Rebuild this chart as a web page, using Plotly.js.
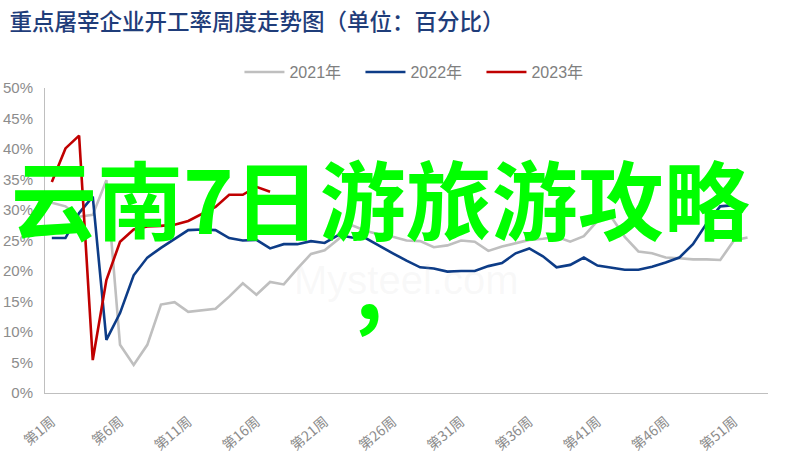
<!DOCTYPE html>
<html>
<head>
<meta charset="utf-8">
<script src="https://cdn.plot.ly/plotly-3.0.1.min.js"></script>
<style>
html,body{margin:0;padding:0;background:#fff;}
#chart{width:793px;height:461px;}
</style>
</head>
<body>
<div id="chart"></div>
<script>
// Week categories
const weeks = [];
for (let i = 1; i <= 53; i++) weeks.push('第' + i + '周');
const tickWeeks = ['第1周','第6周','第11周','第16周','第21周','第26周','第31周','第36周','第41周','第46周','第51周'];

const seriesNames = ['2021年', '2022年', '2023年'];

const values2021 = [31.2,30.6,28.9,29.2,34.9,7.9,4.6,7.9,14.5,14.9,
  13.3,13.6,13.8,15.8,18.0,16.1,18.2,17.8,20.4,22.8,
  23.4,25.2,27.5,26.6,26.0,25.6,25.0,24.9,23.9,24.2,
  25.0,24.8,23.3,24.0,24.5,25.1,25.3,25.6,24.8,25.7,
  28.2,28.9,25.6,23.2,22.9,22.2,22.1,21.9,21.9,21.8,
  25.0,25.5];

const values2022 = [25.4,25.4,29.5,32.2,8.7,13.1,19.3,22.2,23.8,25.3,
  26.7,26.8,26.7,25.4,25.0,25.1,23.7,24.4,24.4,24.9,
  24.6,25.9,25.5,25.4,24.1,22.9,21.7,20.6,20.4,19.9,
  20.0,20.0,20.8,21.3,22.9,23.7,22.4,20.6,21.0,22.2,
  20.9,20.5,20.2,20.2,20.7,21.4,22.2,24.4,27.8,30.6,
  30.8,30.8];

const values2023 = [34.6,40.1,42.2,5.4,18.5,24.8,26.8,27.3,27.4,27.6,
  28.2,29.3,30.5,32.5,32.5,33.8,33.0];

const yTicks = [0,5,10,15,20,25,30,35,40,45,50];
const yTickText = yTicks.map(v => v + '%');

const colors = ['#bfbfbf', '#0d3c87', '#c00000'];
const allValues = [values2021, values2022, values2023];

const traces = allValues.map((vals, i) => ({
  type: 'scatter',
  mode: 'lines',
  name: seriesNames[i],
  x: weeks.slice(0, vals.length),
  y: vals,
  line: {color: colors[i], width: 2.6},
  hoverinfo: 'skip'
}));

const layout = {
  width: 793,
  height: 461,
  paper_bgcolor: '#ffffff',
  plot_bgcolor: '#ffffff',
  margin: {l: 45, r: 25, t: 88, b: 68},
  title: {
    text: '重点屠宰企业开工率周度走势图（单位：百分比）',
    x: 0.012, xanchor: 'left', xref: 'container',
    y: 0.952, yanchor: 'middle', yref: 'container',
    font: {family: '"Noto Sans CJK SC", sans-serif', size: 22.5, color: '#1f3d7a', weight: 500}
  },
  showlegend: true,
  legend: {
    orientation: 'h',
    x: 0.52, xanchor: 'center',
    y: 1.052, yanchor: 'middle',
    font: {family: '"Liberation Sans", "Noto Sans CJK SC", sans-serif', size: 16, color: '#808080'},
    itemwidth: 40,
    entrywidth: 66,
    entrywidthmode: 'pixels',
    traceorder: 'normal'
  },
  xaxis: {
    type: 'category',
    categoryorder: 'array',
    categoryarray: weeks,
    range: [-0.5, 52.5],
    tickmode: 'array',
    tickvals: tickWeeks,
    ticktext: tickWeeks,
    tickangle: -40,
    tickfont: {family: '"Noto Sans CJK SC", sans-serif', size: 14, color: '#8c8c8c'},
    showline: true, linecolor: '#bfbfbf', linewidth: 1,
    showgrid: false, zeroline: false,
    ticks: '',
    ticklabelstandoff: 14
  },
  yaxis: {
    range: [0, 50],
    tickmode: 'array',
    tickvals: yTicks,
    ticktext: yTickText,
    tickfont: {family: '"Liberation Sans", Arial, sans-serif', size: 15, color: '#8c8c8c'},
    showline: true, linecolor: '#bfbfbf', linewidth: 1,
    showgrid: false, zeroline: false,
    ticks: '',
    ticklabelstandoff: 8
  },
  annotations: [
    {
      text: 'Mysteel.com',
      xref: 'paper', yref: 'paper',
      x: 0.5, y: 0.37, xanchor: 'center', yanchor: 'middle',
      showarrow: false,
      font: {family: '"Liberation Sans", Arial, sans-serif', size: 40, color: 'rgba(200,200,200,0.12)'}
    },
    {
      text: '云南7日游旅游攻略',
      xref: 'paper', yref: 'paper',
      x: 0.464, y: 0.645, xanchor: 'center', yanchor: 'middle',
      showarrow: false,
      font: {family: '"Noto Sans CJK SC", sans-serif', size: 86, color: '#00ff00', weight: 700}
    },
    {
      text: ',',
      xref: 'paper', yref: 'paper',
      x: 0.448, y: 0.365, xanchor: 'center', yanchor: 'middle',
      showarrow: false,
      font: {family: '"Noto Sans CJK SC", sans-serif', size: 86, color: '#00ff00', weight: 700}
    }
  ]
};

Plotly.newPlot('chart', traces, layout, {displayModeBar: false, staticPlot: true});
</script>
</body>
</html>
